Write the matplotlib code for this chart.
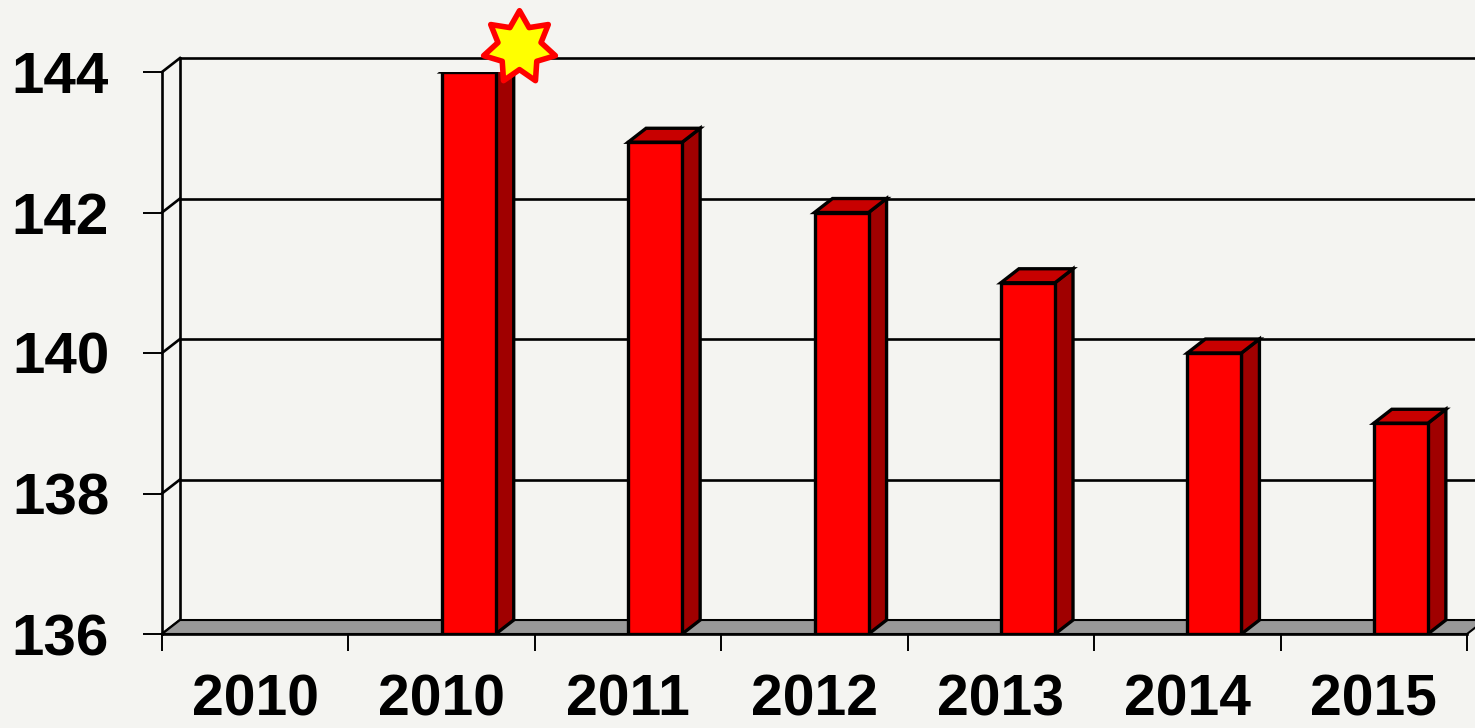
import numpy as np
import matplotlib.pyplot as plt
from matplotlib.patches import Polygon
from matplotlib.path import Path

# chart data
categories = ['2010', '2010', '2011', '2012', '2013', '2014', '2015']
values = [np.nan, 144, 143, 142, 141, 140, 139]
y_ticks = [136, 138, 140, 142, 144]
y_min, y_max = 136, 144

# pseudo 3d look
dx, dy = 0.0966, 0.199
bar_w = 0.29
bg = '#F4F4F1'
lw_grid = 1.9
lw_bar = 2.4

plt.rcParams['font.family'] = ['Liberation Sans', 'DejaVu Sans']

fig = plt.figure(figsize=(14.75, 7.28), dpi=100, facecolor=bg)
ax = fig.add_axes([162 / 1475, 94 / 728, 1305 / 1475, 562 / 728])
ax.set_facecolor(bg)
ax.set_xlim(0, len(categories))
ax.set_ylim(y_min, y_max)
ax.patch.set_visible(False)

for s in ['top', 'right']:
    ax.spines[s].set_visible(False)
for s in ['left', 'bottom']:
    ax.spines[s].set_linewidth(lw_grid)

right = len(categories) + dx + 0.5
# back wall grid lines and the little diagonals on the side wall
for t in y_ticks:
    ax.plot([dx, right], [t + dy, t + dy], color='black', lw=lw_grid, zorder=1, clip_on=False)
    ax.plot([0, dx], [t, t + dy], color='black', lw=lw_grid, zorder=1, clip_on=False)
ax.plot([dx, dx], [y_min + dy, y_max + dy], color='black', lw=lw_grid, zorder=1, clip_on=False)

# floor
n = len(categories)
floor = Polygon([(0, y_min), (n, y_min), (n + dx, y_min + dy), (dx, y_min + dy)],
                closed=True, facecolor='#999999', edgecolor='black', lw=1.5,
                zorder=2, clip_on=False)
ax.add_patch(floor)
ax.plot([n + dx, right], [y_min + dy, y_min + dy], color='black', lw=1.5, zorder=2, clip_on=False)

# bars
xs = np.arange(n) + 0.5
ok = ~np.isnan(values)
vals = np.array(values)
ax.bar(xs[ok], vals[ok] - y_min, width=bar_w, bottom=y_min, align='edge',
       color='#FF0000', edgecolor='black', linewidth=lw_bar, zorder=4)
for x, v in zip(xs[ok], vals[ok]):
    side = Polygon([(x + bar_w, y_min), (x + bar_w + dx, y_min + dy),
                    (x + bar_w + dx, v + dy), (x + bar_w, v)],
                   closed=True, facecolor='#A00000', edgecolor='black', lw=lw_bar, zorder=3)
    top = Polygon([(x, v), (x + dx, v + dy), (x + bar_w + dx, v + dy), (x + bar_w, v)],
                  closed=True, facecolor='#C80000', edgecolor='black', lw=lw_bar, zorder=3)
    ax.add_patch(side)
    ax.add_patch(top)

# star on the highest bar
star = Path.unit_regular_star(7, 0.6)
i_max = int(np.nanargmax(vals))
ax.plot(xs[i_max] + bar_w + dx + 0.03, vals[i_max] + dy + 0.16, marker=star,
        markersize=53, mfc='#FFFF00', mec='#FF0000', mew=4, zorder=6, clip_on=False)

# ticks and labels
ax.set_xticks(np.arange(n + 1), labels=[''] * (n + 1))
ax.set_xticks(np.arange(n) + 0.5, labels=categories, minor=True)
ax.tick_params(axis='x', which='major', length=12, width=1.4, direction='out')
ax.tick_params(axis='x', which='minor', length=0, pad=28.5, labelsize=41)
ax.set_yticks(y_ticks, labels=[str(t) for t in y_ticks])
ax.tick_params(axis='y', length=14, width=1.4, pad=24, labelsize=42)
for lab in ax.get_xticklabels(minor=True) + ax.get_yticklabels():
    lab.set_fontweight('bold')

fig.savefig('out.png', dpi=100, facecolor=bg)
